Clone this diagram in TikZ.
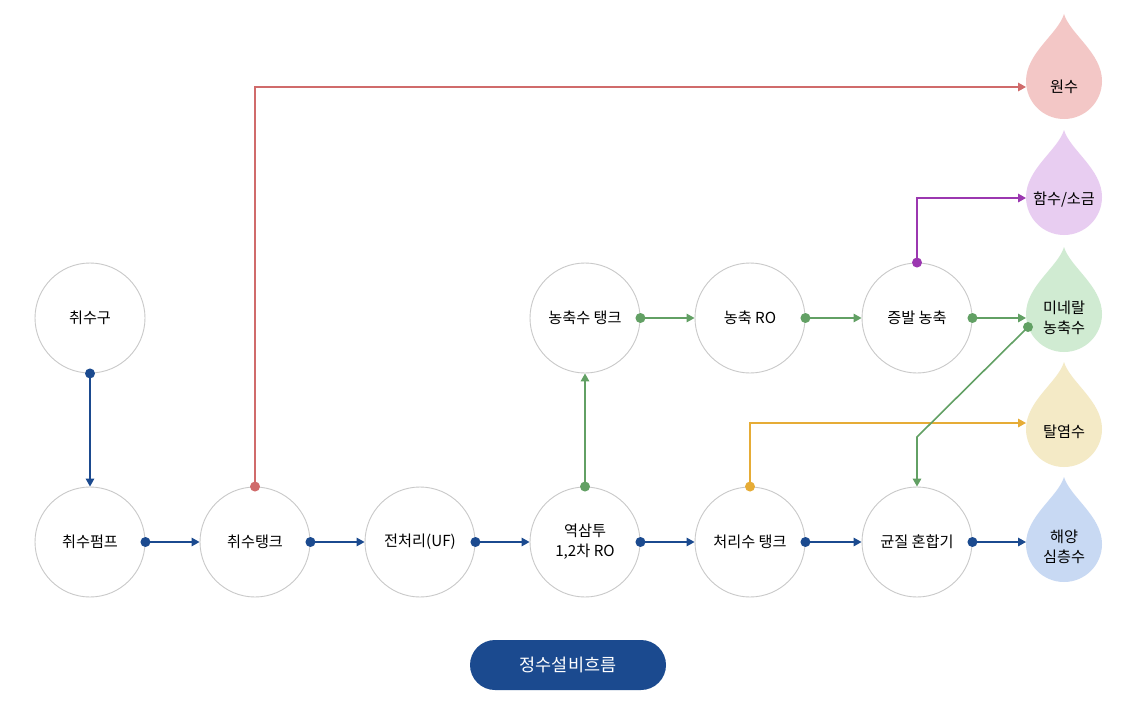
\documentclass[tikz,border=0pt]{standalone}
\usepackage{fontspec}
\setmainfont{Noto Sans CJK KR}
\usetikzlibrary{arrows.meta}
\definecolor{cblue}{HTML}{1B4A8F}
\definecolor{cred}{HTML}{D06B6B}
\definecolor{cpurple}{HTML}{9B37B0}
\definecolor{cgreen}{HTML}{62A064}
\definecolor{cyellow}{HTML}{E6AC36}
\definecolor{fred}{HTML}{F3C7C6}
\definecolor{fpurple}{HTML}{E8CDF1}
\definecolor{fgreen}{HTML}{D0EBD2}
\definecolor{fyellow}{HTML}{F4EAC6}
\definecolor{fblue}{HTML}{C8D9F3}
\definecolor{cgray}{HTML}{C9C9C9}
\begin{document}
\begin{tikzpicture}[x=1pt,y=-1pt,
  lbl/.style={font=\fontsize{15.2}{20}\selectfont,align=center,inner sep=0pt},
  proc/.style={lbl,circle,draw=cgray,line width=0.9pt,minimum size=110pt,fill=white},
  flow/.style={line width=1.6pt,-{Triangle[length=8pt,width=8.5pt]}},
  btn/.style={fill=cblue,text=white,rounded corners=25pt,minimum width=196pt,minimum height=50pt,font=\fontsize{17.5}{20}\selectfont,inner sep=0pt}]
\useasboundingbox[fill=white] (0,0) rectangle (1137,701);

% drops
\newcommand{\dropat}[2]{%
  \begin{scope}[shift={(1064,#1)}]
    \fill[#2] (0,0) .. controls (-6,20) and (-38,39) .. (-38,67)
      .. controls (-38,88) and (-21,105) .. (0,105)
      .. controls (21,105) and (38,88) .. (38,67)
      .. controls (38,39) and (6,20) .. (0,0) -- cycle;
  \end{scope}}
\dropat{14}{fred}
\dropat{130}{fpurple}
\dropat{247}{fgreen}
\dropat{362}{fyellow}
\dropat{477}{fblue}
\node[lbl] (d1) at (1064,87) {원수};
\node[lbl] (d2) at (1064,200) {함수/소금};
\node[lbl] (d3) at (1064,318) {미네랄\\농축수};
\node[lbl] (d4) at (1064,432) {탈염수};
\node[lbl] (d5) at (1064,547) {해양\\심층수};
\coordinate (d1w) at (1026,87);
\coordinate (d2w) at (1026,198);
\coordinate (d3w) at (1026,318);
\coordinate (d3s) at (1028,327);
\coordinate (d4w) at (1026,423);
\coordinate (d5w) at (1026,542);
\coordinate (gbend) at (917,437);

% process circles
\node[proc] (intake) at (90,318) {취수구};
\node[proc] (pump) at (90,542) {취수펌프};
\node[proc] (tank) at (255,542) {취수탱크};
\node[proc] (pre) at (420,542) {전처리(UF)};
\node[proc] (ro) at (585,542) {역삼투\\1,2차 RO};
\node[proc] (treat) at (750,542) {처리수 탱크};
\node[proc] (mix) at (917,542) {균질 혼합기};
\node[proc] (conc) at (585,318) {농축수 탱크};
\node[proc] (cro) at (750,318) {농축 RO};
\node[proc] (evap) at (917,318) {증발 농축};

% connectors
\draw[flow,cblue] (intake.south) -- (pump.north);
\draw[flow,cblue] (pump.east) -- (tank.west);
\draw[flow,cblue] (tank.east) -- (pre.west);
\draw[flow,cblue] (pre.east) -- (ro.west);
\draw[flow,cblue] (ro.east) -- (treat.west);
\draw[flow,cblue] (treat.east) -- (mix.west);
\draw[flow,cblue] (mix.east) -- (d5w);
\draw[flow,cred] (tank.north) |- (d1w);
\draw[flow,cgreen] (ro.north) -- (conc.south);
\draw[flow,cgreen] (conc.east) -- (cro.west);
\draw[flow,cgreen] (cro.east) -- (evap.west);
\draw[flow,cgreen] (evap.east) -- (d3w);
\draw[flow,cpurple] (evap.north) |- (d2w);
\draw[flow,cyellow] (treat.north) |- (d4w);
\draw[flow,cgreen] (d3s) -- (gbend) -- (mix.north);

% dots
\foreach \p in {intake.south,pump.east,tank.east,pre.east,ro.east,treat.east,mix.east}
  \fill[cblue] (\p) circle (5pt);
\fill[cred] (tank.north) circle (5pt);
\fill[cgreen] (ro.north) circle (5pt);
\fill[cgreen] (conc.east) circle (5pt);
\fill[cgreen] (cro.east) circle (5pt);
\fill[cgreen] (evap.east) circle (5pt);
\fill[cgreen] (d3s) circle (5pt);
\fill[cpurple] (evap.north) circle (5pt);
\fill[cyellow] (treat.north) circle (5pt);

\node[btn] (flowbtn) at (568,665) {정수설비흐름};
\end{tikzpicture}
\end{document}
